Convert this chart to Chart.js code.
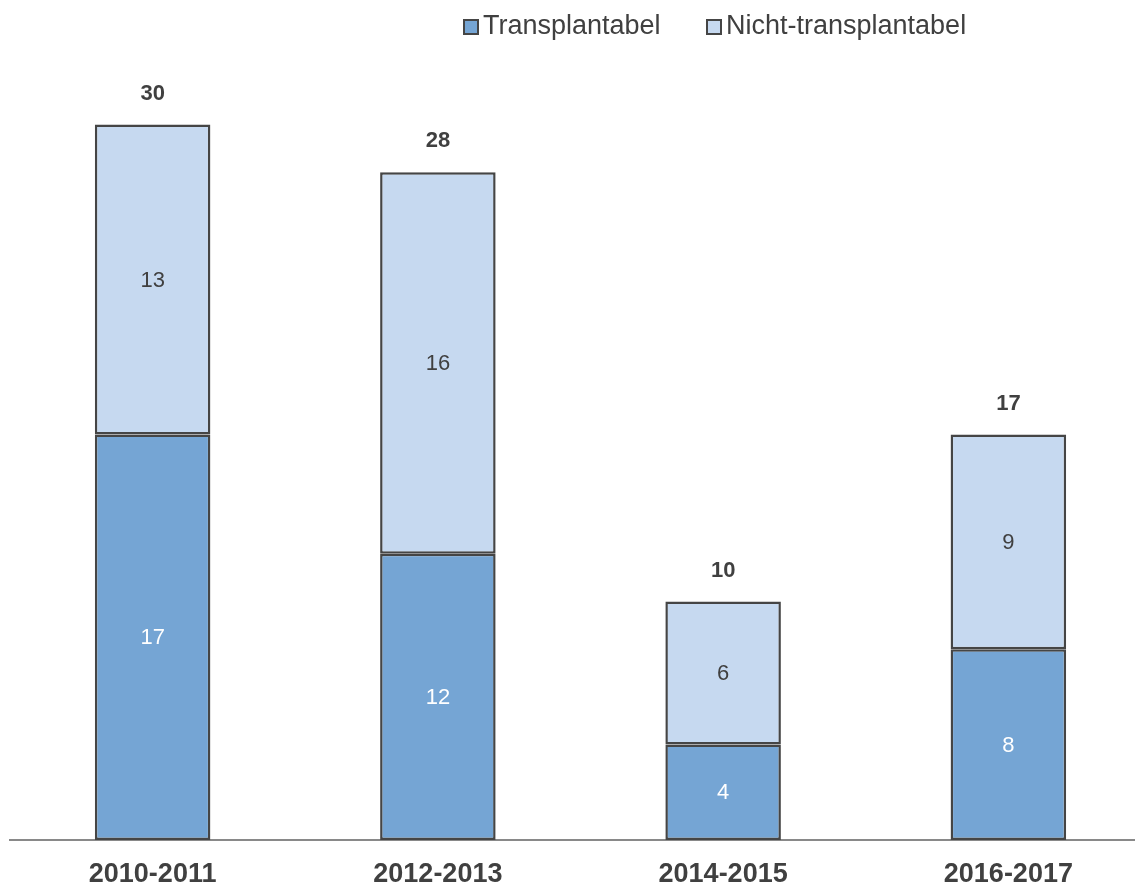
<!DOCTYPE html>
<html>
<head>
<meta charset="utf-8">
<script src="https://cdn.jsdelivr.net/npm/chart.js@4.4.1/dist/chart.umd.min.js"></script>
<style>
  html, body { margin: 0; padding: 0; background: #fff; overflow: hidden; }
  #wrap { position: absolute; left: 0; top: 0; width: 1160px; height: 884px; }
</style>
</head>
<body>
<div id="wrap"><canvas id="chart" width="1160" height="884"></canvas></div>
<script>
const categories = ["2010-2011", "2012-2013", "2014-2015", "2016-2017"];
const transplantabel = [17, 12, 4, 8];
const nichtTransplantabel = [13, 16, 6, 9];
const seriesLabels = ["Transplantabel", "Nicht-transplantabel"];

const FONT = "'Liberation Sans', Arial, sans-serif";
const DARK = "#75a5d4";
const LIGHT = "#c6d9f0";
const EDGE = "#454545";
const TEXT = "#404040";

// segment values + totals on top
const valueLabels = {
  id: "valueLabels",
  afterDatasetsDraw(chart) {
    const { ctx } = chart;
    ctx.save();
    ctx.textAlign = "center";
    ctx.textBaseline = "middle";
    chart.data.datasets.forEach((ds, i) => {
      const meta = chart.getDatasetMeta(i);
      ctx.font = "22px " + FONT;
      ctx.fillStyle = i === 0 ? "#ffffff" : TEXT;
      meta.data.forEach((bar, j) => {
        ctx.fillText(String(ds.data[j]), bar.x, (bar.y + bar.base) / 2 + 1);
      });
    });
    const last = chart.getDatasetMeta(chart.data.datasets.length - 1);
    ctx.font = "bold 22px " + FONT;
    ctx.fillStyle = TEXT;
    last.data.forEach((bar, j) => {
      const total = chart.data.datasets.reduce((s, ds) => s + ds.data[j], 0);
      ctx.fillText(String(total), bar.x, bar.y - 31);
    });
    ctx.restore();
  }
};

// legend drawn by hand so it sits where the original one does
const topLegend = {
  id: "topLegend",
  afterDraw(chart) {
    const { ctx } = chart;
    const spots = [464, 707];
    ctx.save();
    ctx.font = "27px " + FONT;
    ctx.textBaseline = "middle";
    ctx.textAlign = "left";
    chart.data.datasets.forEach((ds, i) => {
      const x = spots[i];
      ctx.fillStyle = ds.backgroundColor;
      ctx.fillRect(x, 20, 14, 14);
      ctx.strokeStyle = EDGE;
      ctx.lineWidth = 2;
      ctx.strokeRect(x, 20, 14, 14);
      ctx.fillStyle = TEXT;
      ctx.fillText(ds.label, x + 19, 27);
    });
    ctx.restore();
  }
};

new Chart(document.getElementById("chart"), {
  type: "bar",
  data: {
    labels: categories,
    datasets: [
      {
        label: seriesLabels[0],
        data: transplantabel,
        backgroundColor: DARK,
        borderColor: EDGE,
        borderWidth: 2.5,
        borderSkipped: false
      },
      {
        label: seriesLabels[1],
        data: nichtTransplantabel,
        backgroundColor: LIGHT,
        borderColor: EDGE,
        borderWidth: 2.5,
        borderSkipped: false
      }
    ]
  },
  options: {
    responsive: false,
    devicePixelRatio: 1,
    animation: false,
    layout: { padding: { top: 53, left: 10, right: 9, bottom: 0 } },
    datasets: { bar: { barPercentage: 1, categoryPercentage: 0.405 } },
    plugins: {
      legend: { display: false },
      tooltip: { enabled: false }
    },
    scales: {
      x: {
        stacked: true,
        grid: { display: false, drawTicks: false },
        border: { display: true, color: "#898989", width: 2 },
        ticks: { color: TEXT, font: { family: FONT, size: 27, weight: "bold" }, padding: 18 },
        afterFit(scale) { scale.height = 44; }
      },
      y: {
        stacked: true,
        display: false,
        min: 0,
        max: 33
      }
    }
  },
  plugins: [valueLabels, topLegend]
});
</script>
</body>
</html>
